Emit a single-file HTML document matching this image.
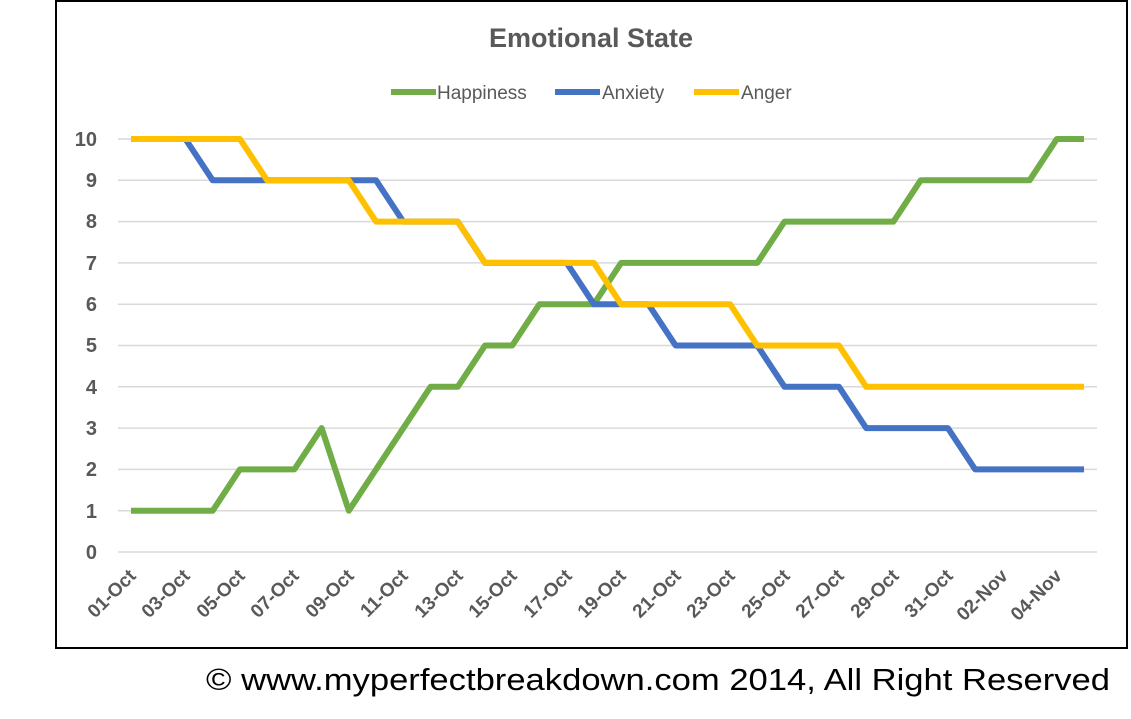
<!DOCTYPE html>
<html><head><meta charset="utf-8"><style>
html,body{margin:0;padding:0;background:#fff;}
svg{display:block;}
</style></head><body>
<svg width="1131" height="719" viewBox="0 0 1131 719" xmlns="http://www.w3.org/2000/svg">
<rect x="0" y="0" width="1131" height="719" fill="#fff"/>
<rect x="56" y="1" width="1071" height="647" fill="#fff" stroke="#000" stroke-width="2"/>
<text x="591" y="47" text-anchor="middle" font-family="Liberation Sans, sans-serif" font-weight="bold" font-size="27" fill="#595959">Emotional State</text>
<g font-family="Liberation Sans, sans-serif" font-size="19" fill="#595959">
<line x1="391" y1="92" x2="436" y2="92" stroke="#70ad47" stroke-width="6"/><text x="437" y="99">Happiness</text>
<line x1="555" y1="92" x2="600" y2="92" stroke="#4472c4" stroke-width="6"/><text x="602" y="99">Anxiety</text>
<line x1="694" y1="92" x2="739" y2="92" stroke="#ffc000" stroke-width="6"/><text x="741" y="99">Anger</text>
</g>
<g stroke="#d9d9d9" stroke-width="1.5">
<line x1="118" x2="1097" y1="139" y2="139"/><line x1="118" x2="1097" y1="180.3" y2="180.3"/>
<line x1="118" x2="1097" y1="221.6" y2="221.6"/><line x1="118" x2="1097" y1="262.9" y2="262.9"/>
<line x1="118" x2="1097" y1="304.2" y2="304.2"/><line x1="118" x2="1097" y1="345.5" y2="345.5"/>
<line x1="118" x2="1097" y1="386.8" y2="386.8"/><line x1="118" x2="1097" y1="428.1" y2="428.1"/>
<line x1="118" x2="1097" y1="469.4" y2="469.4"/><line x1="118" x2="1097" y1="510.7" y2="510.7"/>
<line x1="118" x2="1097" y1="552" y2="552"/>
</g>
<g font-family="Liberation Sans, sans-serif" font-weight="bold" font-size="20" fill="#595959" text-anchor="end">
<text x="97" y="146">10</text><text x="97" y="187">9</text><text x="97" y="228">8</text><text x="97" y="270">7</text>
<text x="97" y="311">6</text><text x="97" y="352">5</text><text x="97" y="394">4</text><text x="97" y="435">3</text>
<text x="97" y="476">2</text><text x="97" y="518">1</text><text x="97" y="559">0</text>
</g>
<g font-family="Liberation Sans, sans-serif" font-weight="bold" font-size="19" fill="#595959" text-anchor="end">
<text transform="translate(137,577) rotate(-45)">01-Oct</text>
<text transform="translate(191,577) rotate(-45)">03-Oct</text>
<text transform="translate(246,577) rotate(-45)">05-Oct</text>
<text transform="translate(300,577) rotate(-45)">07-Oct</text>
<text transform="translate(355,577) rotate(-45)">09-Oct</text>
<text transform="translate(409,577) rotate(-45)">11-Oct</text>
<text transform="translate(464,577) rotate(-45)">13-Oct</text>
<text transform="translate(518,577) rotate(-45)">15-Oct</text>
<text transform="translate(573,577) rotate(-45)">17-Oct</text>
<text transform="translate(627,577) rotate(-45)">19-Oct</text>
<text transform="translate(682,577) rotate(-45)">21-Oct</text>
<text transform="translate(736,577) rotate(-45)">23-Oct</text>
<text transform="translate(791,577) rotate(-45)">25-Oct</text>
<text transform="translate(845,577) rotate(-45)">27-Oct</text>
<text transform="translate(900,577) rotate(-45)">29-Oct</text>
<text transform="translate(954,577) rotate(-45)">31-Oct</text>
<text transform="translate(1009,577) rotate(-45)">02-Nov</text>
<text transform="translate(1063,577) rotate(-45)">04-Nov</text>
</g>
<g transform="matrix(27.23 0 0 -41.3 131 552)" fill="none" stroke-width="6" stroke-linejoin="round">
<polyline vector-effect="non-scaling-stroke" stroke="#70ad47" points="0,1 1,1 2,1 3,1 4,2 5,2 6,2 7,3 8,1 9,2 10,3 11,4 12,4 13,5 14,5 15,6 16,6 17,6 18,7 19,7 20,7 21,7 22,7 23,7 24,8 25,8 26,8 27,8 28,8 29,9 30,9 31,9 32,9 33,9 34,10 35,10"/>
<polyline vector-effect="non-scaling-stroke" stroke="#4472c4" points="0,10 1,10 2,10 3,9 4,9 5,9 6,9 7,9 8,9 9,9 10,8 11,8 12,8 13,7 14,7 15,7 16,7 17,6 18,6 19,6 20,5 21,5 22,5 23,5 24,4 25,4 26,4 27,3 28,3 29,3 30,3 31,2 32,2 33,2 34,2 35,2"/>
<polyline vector-effect="non-scaling-stroke" stroke="#ffc000" points="0,10 1,10 2,10 3,10 4,10 5,9 6,9 7,9 8,9 9,8 10,8 11,8 12,8 13,7 14,7 15,7 16,7 17,7 18,6 19,6 20,6 21,6 22,6 23,5 24,5 25,5 26,5 27,4 28,4 29,4 30,4 31,4 32,4 33,4 34,4 35,4"/>
</g>
<text x="206" y="690" textLength="904" lengthAdjust="spacingAndGlyphs" font-family="Liberation Sans, sans-serif" font-size="31" fill="#000">© www.myperfectbreakdown.com 2014, All Right Reserved</text>
</svg>
</body></html>
